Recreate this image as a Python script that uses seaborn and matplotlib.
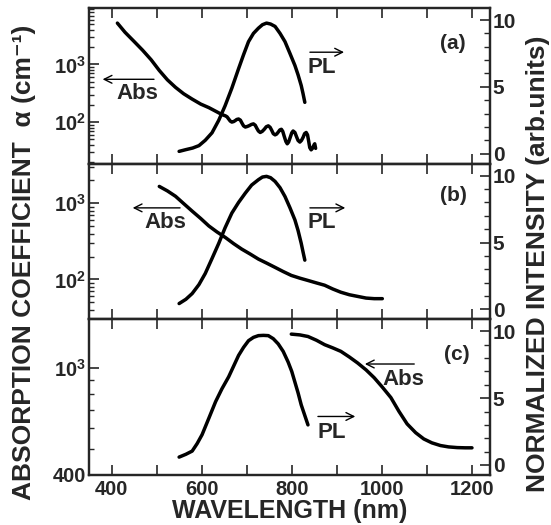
import numpy as np
import pandas as pd
import matplotlib
matplotlib.use("Agg")
import matplotlib.pyplot as plt
from matplotlib.ticker import FixedLocator, MultipleLocator, LogLocator, NullFormatter
import seaborn as sns

# ---------------- data ----------------
# Panel (a)
abs_a_wl = [413, 430, 450, 469, 488, 506, 524, 542, 560, 579, 598, 616, 634, 645,
            653, 656.5, 660, 663.5, 667, 671, 674.5, 678, 682, 686, 689.5, 693, 697,
            701.5, 706, 710.5, 715, 719, 722.5, 726, 730, 734.5, 739, 743.5, 748,
            752, 755.5, 759, 763, 766.5, 770, 773.5, 777, 780, 783.5, 787, 790,
            793, 796.5, 800, 803, 807, 810.5, 814, 818, 821.5, 825, 828.5, 832,
            835, 837.5, 840, 843, 846, 848, 850, 851, 853]
abs_a_val = [5200, 3600, 2500, 1760, 1200, 785, 540, 400, 310, 250, 205, 178, 150, 135,
             128, 123, 113, 104, 100, 102, 106, 111, 113, 108, 96, 86, 82,
             84, 87, 91, 93, 88, 78, 70, 66, 69, 75, 83, 86,
             81, 72, 63, 60, 62, 67, 73, 75, 69, 56, 46, 42,
             45, 54, 65, 70, 66, 56, 48, 45, 48, 54, 63, 66,
             60, 47, 36, 33, 35, 38, 41, 42, 35]
pl_a_wl = [550, 565, 580, 594, 608, 623, 638, 652, 667, 682, 693, 704, 715, 726, 735,
           744, 753, 763, 774, 785, 796, 807, 814, 821, 825, 829]
pl_a_val = [0.17, 0.3, 0.42, 0.6, 1.0, 1.56, 2.5, 3.58, 4.9, 6.36, 7.4, 8.38, 9.0, 9.39, 9.65,
            9.77, 9.7, 9.52, 9.0, 8.38, 7.5, 6.6, 5.9, 5.1, 4.5, 3.84]

# Panel (b)
abs_b_wl = [506, 524, 542, 560, 579, 598, 616, 634, 653, 671, 689, 708, 726, 745, 763,
            781, 799, 818, 836, 855, 873, 891, 909, 928, 946, 965, 983, 1001]
abs_b_val = [1660, 1450, 1233, 990, 787, 630, 503, 420, 354, 295, 250, 215, 185, 163, 144,
             127, 113, 104, 97, 90, 84, 75, 68, 63, 60, 57, 56, 56]
pl_b_wl = [550, 565, 579, 594, 608, 623, 638, 652, 667, 682, 697, 711, 726, 735, 744,
           753, 763, 774, 785, 796, 807, 814, 821, 825, 829]
pl_b_val = [0.43, 0.75, 1.18, 1.85, 2.68, 3.8, 4.94, 6.1, 7.2, 8.0, 8.7, 9.3, 9.7, 9.9, 9.95,
            9.85, 9.57, 9.1, 8.44, 7.6, 6.69, 5.9, 4.94, 4.3, 3.68]

# Panel (c)
abs_c_wl = [799, 818, 836, 855, 873, 891, 909, 928, 946, 965, 983, 1001, 1020, 1038,
            1056, 1075, 1093, 1111, 1130, 1148, 1167, 1185, 1200]
abs_c_val = [1339, 1330, 1312, 1270, 1223, 1190, 1155, 1100, 1046, 985, 921, 850, 777, 690,
             620, 575, 545, 527, 515, 509, 506, 505, 505]
pl_c_wl = [550, 565, 579, 590, 601, 616, 631, 645, 660, 671, 682, 693, 704, 715, 726,
           737, 748, 759, 770, 781, 792, 800, 807, 814, 821, 829, 836]
pl_c_val = [0.59, 0.8, 1.04, 1.6, 2.27, 3.5, 4.74, 5.7, 6.6, 7.4, 8.2, 8.8, 9.3, 9.55, 9.68,
            9.7, 9.68, 9.45, 9.06, 8.5, 7.7, 7.0, 6.2, 5.4, 4.5, 3.7, 3.0]

x_ticks = [400, 600, 800, 1000, 1200]
panel_labels = ["(a)", "(b)", "(c)"]
left_ylims = [(19, 9500), (30, 3300), (400, 1520)]
right_ticks = [0, 5, 10]

# ---------------- style ----------------
sns.set_style("ticks")
plt.rcParams["font.family"] = ["Liberation Sans", "DejaVu Sans"]
plt.rcParams["font.weight"] = "bold"
plt.rcParams["mathtext.fontset"] = "custom"
plt.rcParams["mathtext.rm"] = "Liberation Sans:bold"
plt.rcParams["mathtext.bf"] = "Liberation Sans:bold"
plt.rcParams["mathtext.it"] = "Liberation Sans:italic:bold"
plt.rcParams["axes.linewidth"] = 1.6

fig = plt.figure(figsize=(5.51, 5.25), dpi=100)
L, R = 89 / 551, 490 / 551
B, T = 1 - 475 / 525, 1 - 8 / 525
gs = fig.add_gridspec(3, 1, left=L, right=R, bottom=B, top=T, hspace=0)
axes = [fig.add_subplot(gs[i]) for i in range(3)]

panels = [
    (abs_a_wl, abs_a_val, pl_a_wl, pl_a_val),
    (abs_b_wl, abs_b_val, pl_b_wl, pl_b_val),
    (abs_c_wl, abs_c_val, pl_c_wl, pl_c_val),
]

# annotation layout (axes fraction)
ann = [
    dict(lab=(0.908, 0.774), abs_arrow=((0.169, 0.542), (0.027, 0.542)), abs_txt=(0.12, 0.45),
         pl_arrow=((0.544, 0.716), (0.643, 0.716)), pl_txt=(0.581, 0.62)),
    dict(lab=(0.908, 0.794), abs_arrow=((0.234, 0.716), (0.102, 0.716)), abs_txt=(0.19, 0.62),
         pl_arrow=((0.544, 0.716), (0.646, 0.716)), pl_txt=(0.581, 0.62)),
    dict(lab=(0.918, 0.777), abs_arrow=((0.818, 0.713), (0.681, 0.713)), abs_txt=(0.783, 0.616),
         pl_arrow=((0.564, 0.376), (0.671, 0.376)), pl_txt=(0.606, 0.274)),
]

for i, ax in enumerate(axes):
    awl, aval, pwl, pval = panels[i]
    dfa = pd.DataFrame({"wl": awl, "alpha": aval})
    dfp = pd.DataFrame({"wl": pwl, "pl": pval})
    sns.lineplot(data=dfa, x="wl", y="alpha", ax=ax, color="black", lw=2.5, sort=False)
    ax.set_yscale("log")
    ax.set_ylim(*left_ylims[i])
    ax.set_xlim(350, 1240)
    ax2 = ax.twinx()
    sns.lineplot(data=dfp, x="wl", y="pl", ax=ax2, color="black", lw=2.5, sort=False)
    ax2.set_ylim(-0.75, 10.9)
    ax.set_ylabel("")
    ax2.set_ylabel("")
    ax.set_xlabel("")

    # x ticks
    ax.xaxis.set_major_locator(MultipleLocator(100))
    ax.tick_params(axis="x", which="major", direction="in", length=7, width=1.2,
                   top=True, bottom=True, labelsize=14.5)
    ax.set_xticklabels([])
    # left y ticks
    if i < 2:
        ax.yaxis.set_major_locator(FixedLocator([100, 1000]))
        ax.set_yticklabels([r"$10^2$", r"$10^3$"])
    else:
        ax.yaxis.set_major_locator(FixedLocator([400, 1000]))
        ax.set_yticklabels(["400", r"$10^3$"])
    ax.yaxis.set_minor_locator(LogLocator(base=10, subs=np.arange(2, 10)))
    ax.yaxis.set_minor_formatter(NullFormatter())
    ax.tick_params(axis="y", which="major", direction="in", length=7, width=1.2, labelsize=14.5, pad=2)
    ax.tick_params(axis="y", which="minor", direction="in", length=3.5, width=1.0)
    # right y ticks
    ax2.yaxis.set_major_locator(FixedLocator(right_ticks))
    ax2.yaxis.set_minor_locator(MultipleLocator(1))
    ax2.tick_params(axis="y", which="major", direction="in", length=7, width=1.2, labelsize=15, pad=2)
    ax2.tick_params(axis="y", which="minor", direction="in", length=4, width=1.0)
    for a in (ax, ax2):
        for s in a.spines.values():
            s.set_linewidth(1.6)

    a_ = ann[i]
    ax.text(*a_["lab"], panel_labels[i], transform=ax.transAxes, fontsize=15,
            fontweight="bold", ha="center", va="center")
    ax.annotate("", xy=a_["abs_arrow"][1], xytext=a_["abs_arrow"][0], xycoords="axes fraction",
                arrowprops=dict(arrowstyle="->", lw=1.0, color="black", mutation_scale=14))
    ax.text(*a_["abs_txt"], "Abs", transform=ax.transAxes, fontsize=16,
            fontweight="bold", ha="center", va="center")
    ax.annotate("", xy=a_["pl_arrow"][1], xytext=a_["pl_arrow"][0], xycoords="axes fraction",
                arrowprops=dict(arrowstyle="->", lw=1.0, color="black", mutation_scale=14))
    ax.text(*a_["pl_txt"], "PL", transform=ax.transAxes, fontsize=16,
            fontweight="bold", ha="center", va="center")

axes[-1].set_xticks(np.arange(400, 1201, 100))
axes[-1].set_xticklabels([str(v) if v in x_ticks else "" for v in np.arange(400, 1201, 100)])
axes[-1].set_xlabel("WAVELENGTH (nm)", fontsize=18, fontweight="bold", labelpad=0)

fig.text(0.044, 0.5, "ABSORPTION COEFFICIENT  α (cm⁻¹)", rotation=90, fontsize=19,
         fontweight="bold", ha="center", va="center")
fig.text(0.976, 0.497, "NORMALIZED INTENSITY (arb.units)", rotation=90, fontsize=19,
         fontweight="bold", ha="center", va="center")

fig.savefig("out.png", dpi=100)
